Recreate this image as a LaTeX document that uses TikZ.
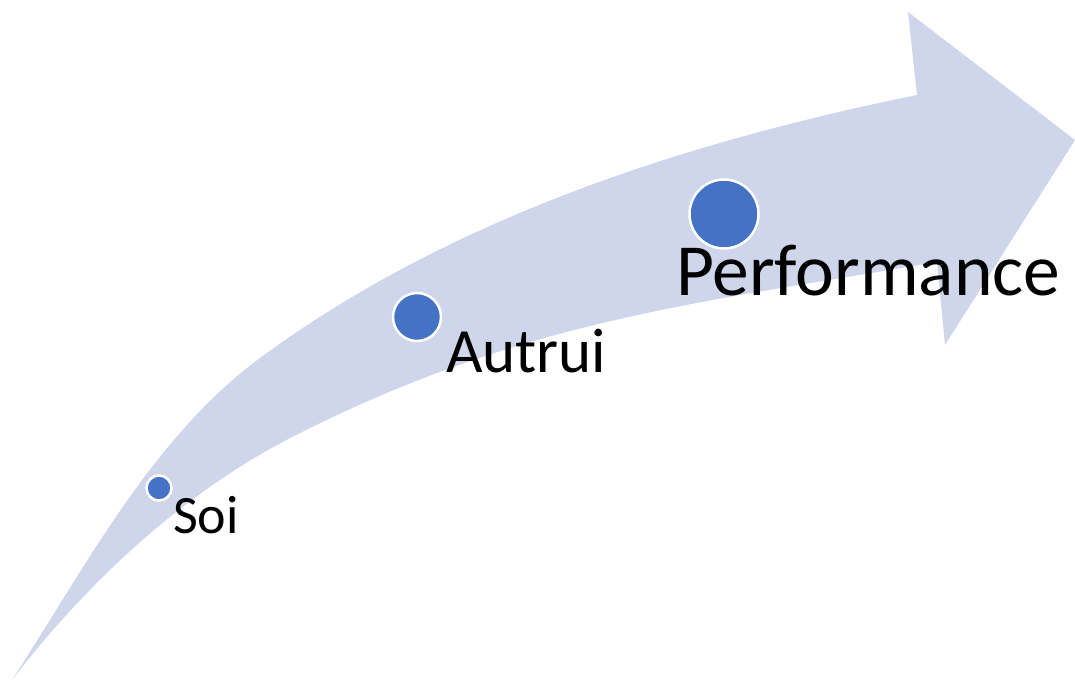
\documentclass[tikz,border=0pt]{standalone}
\usepackage{fontspec}
\setmainfont{Carlito}
\definecolor{band}{HTML}{CFD5EA}
\definecolor{dotblue}{HTML}{4472C4}
\tikzset{
  dotnode/.style={circle, fill=dotblue, draw=white, line width=2.5pt, inner sep=0pt},
  lbl/.style={anchor=base west, inner sep=0pt, text=black}
}
\begin{document}
\begin{tikzpicture}[x=1pt,y=-1pt]
\useasboundingbox (0,0) rectangle (1075,680);
\fill[band] (12,680) .. controls (85.6,566.9) and (151.5,438.3) .. (260,358)
  .. controls (450,218) and (686,142) .. (917,95)
  -- (908,12) -- (1075,140) -- (945,345) -- (937,262)
  .. controls (690.5,304) and (523.5,321) .. (300,433)
  .. controls (187,489) and (89,580) .. (12,680) -- cycle;
\node[dotnode, minimum size=25pt] (d1) at (159,488) {};
\node[dotnode, minimum size=48pt] (d2) at (417,317) {};
\node[dotnode, minimum size=69pt] (d3) at (724,214) {};
\node[lbl, font=\fontsize{54}{64}\selectfont] (soi) at (173,533) {Soi};
\node[lbl, font=\fontsize{63}{74}\selectfont] (autrui) at (446,372) {Autrui};
\node[lbl, font=\fontsize{73.5}{88}\selectfont] (perf) at (676,295) {Performance};
\end{tikzpicture}
\end{document}
